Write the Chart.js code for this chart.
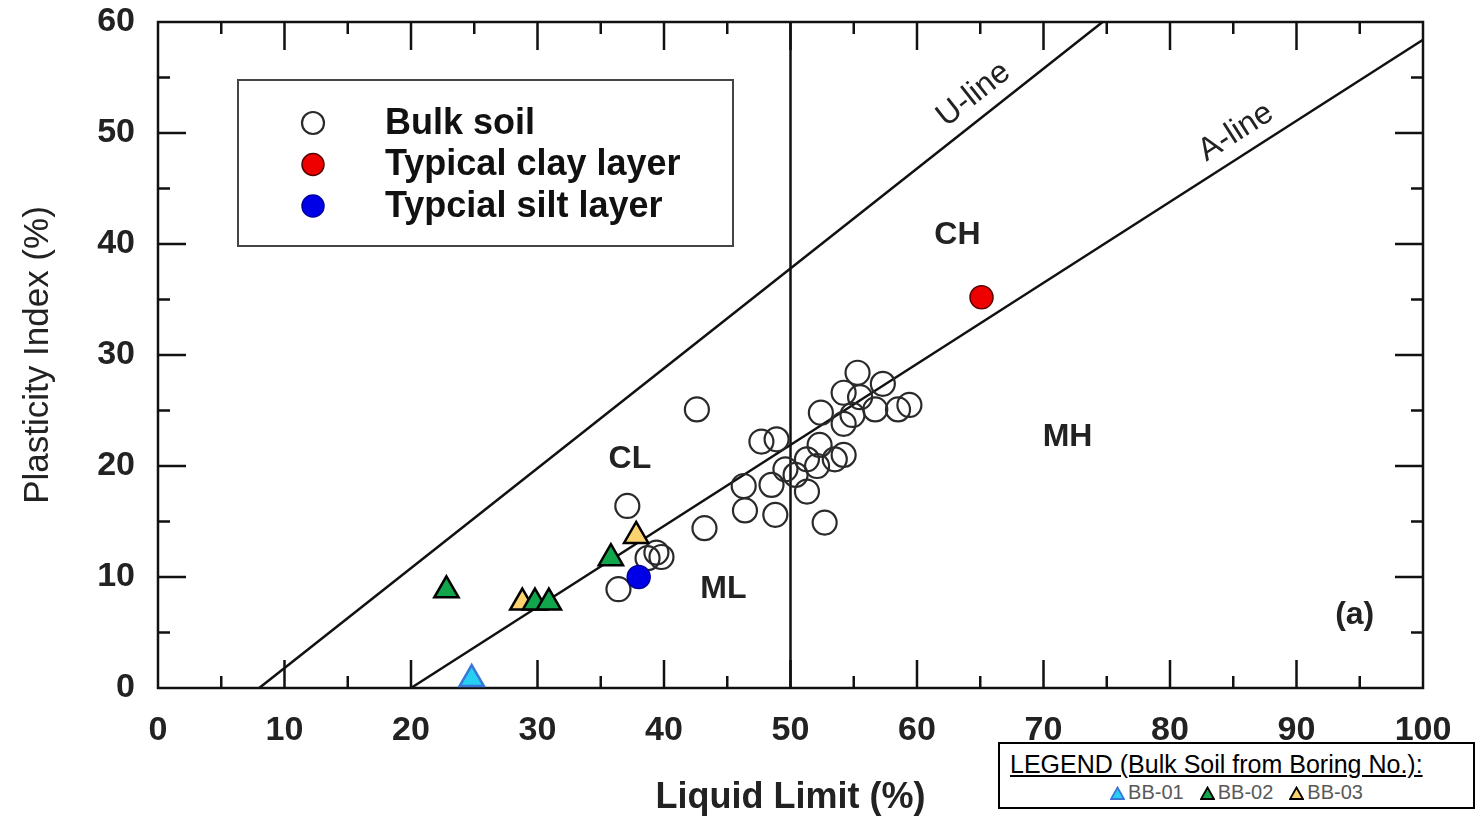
<!DOCTYPE html>
<html>
<head>
<meta charset="utf-8">
<title>Plasticity chart</title>
<script src="https://cdn.jsdelivr.net/npm/chart.js@4.4.1/dist/chart.umd.min.js"></script>
<style>
  body { margin: 0; background: #fff; }
  #wrap { position: relative; width: 1475px; height: 818px; }
  #boring {
    position: absolute; left: 998px; top: 742px; width: 473px; height: 63px;
    border: 2px solid #000; background: #fff;
    font-family: "Liberation Sans", Arial, sans-serif;
  }
  #boring .head { position: absolute; left: 10px; top: 6px; font-size: 25px; color: #000; text-decoration: underline; white-space: nowrap; }
  #boring .row { position: absolute; left: 0; right: 0; top: 37px; text-align: center; font-size: 20px; color: #595959; white-space: nowrap; }
  #boring .row span { margin: 0 8px; }
  #boring svg { vertical-align: -1px; margin-right: 3px; }
</style>
</head>
<body>
<div id="wrap">
  <canvas id="plasticity" width="1475" height="818"></canvas>
  <div id="boring">
    <div class="head">LEGEND (Bulk Soil from Boring No.):</div>
    <div class="row" id="boringRow"></div>
  </div>
</div>
<script>
// Datos (LL = límite líquido, PI = índice de plasticidad)
const bulkLL = [42.6, 37.1, 36.4, 43.2, 47.7, 48.9, 46.3, 46.4, 48.8, 48.5, 49.6, 50.4, 51.3, 51.3, 52.7,
                52.4, 52.3, 53.5, 54.2, 54.2, 54.2, 55.3, 55.5, 54.9, 56.7, 57.3, 58.5, 59.4, 38.7, 39.4, 39.8, 52.1];
const bulkPI = [25.1, 16.4, 8.9, 14.4, 22.2, 22.4, 18.2, 16.0, 15.6, 18.3, 19.7, 19.2, 20.6, 17.7, 14.9,
                24.8, 21.9, 20.6, 21.0, 23.8, 26.6, 28.4, 26.2, 24.6, 25.1, 27.4, 25.1, 25.5, 11.7, 12.2, 11.8, 20.0];
const clayLL = [65.1];
const clayPI = [35.2];
const siltLL = [38.0];
const siltPI = [10.0];
const bb01LL = [24.8];
const bb01PI = [0.8];
const bb02LL = [22.8, 29.8, 30.9, 35.8];
const bb02PI = [8.8, 7.7, 7.7, 11.7];
const bb03LL = [28.8, 37.8];
const bb03PI = [7.7, 13.7];

// Líneas de referencia
const aLineLL = [20, 100];
const aLinePI = [0, 58.4];
const uLineLL = [8, 74.67];
const uLinePI = [0, 60];
const llFiftyLL = [50, 50];
const llFiftyPI = [0, 60];

// Textos de las zonas
const zoneText = ['CL', 'CH', 'ML', 'MH', '(a)'];
const zoneLL = [37.3, 63.2, 44.7, 71.9, 94.6];
const zonePI = [20.6, 40.8, 8.9, 22.6, 6.6];

const FONT = '"Liberation Sans", Arial, sans-serif';

function toPoints(xs, ys) {
    return xs.map((x, i) => ({ x: x, y: ys[i] }));
}

function refLine(label, xs, ys) {
    return {
        label: label,
        data: toPoints(xs, ys),
        showLine: true,
        borderColor: '#111',
        borderWidth: 2.5,
        pointRadius: 0,
        order: 10,
        clip: false
    };
}

// Marco, marcas de escala, textos y leyenda interna
const decorPlugin = {
    id: 'decor',
    beforeDatasetsDraw(chart) {
        const { ctx, chartArea: a, scales: { x, y } } = chart;
        ctx.save();
        ctx.strokeStyle = '#111';
        ctx.lineWidth = 2.5;
        ctx.strokeRect(a.left, a.top, a.right - a.left, a.bottom - a.top);

        ctx.lineWidth = 2.5;
        ctx.beginPath();
        for (let v = 5; v < 100; v += 5) {
            const px = x.getPixelForValue(v);
            const len = v % 10 === 0 ? 28 : 12;
            ctx.moveTo(px, a.bottom); ctx.lineTo(px, a.bottom - len);
            ctx.moveTo(px, a.top); ctx.lineTo(px, a.top + len);
        }
        for (let v = 5; v < 60; v += 5) {
            const py = y.getPixelForValue(v);
            const len = v % 10 === 0 ? 28 : 12;
            ctx.moveTo(a.left, py); ctx.lineTo(a.left + len, py);
            ctx.moveTo(a.right, py); ctx.lineTo(a.right - len, py);
        }
        ctx.stroke();

        // zonas
        ctx.fillStyle = '#222';
        ctx.font = 'bold 32px ' + FONT;
        ctx.textAlign = 'center';
        ctx.textBaseline = 'middle';
        zoneText.forEach((t, i) => {
            ctx.fillText(t, x.getPixelForValue(zoneLL[i]), y.getPixelForValue(zonePI[i]));
        });

        // etiquetas de las líneas
        function lineLabel(text, xs, ys, atLL, lift) {
            const x0 = x.getPixelForValue(xs[0]), y0 = y.getPixelForValue(ys[0]);
            const x1 = x.getPixelForValue(xs[1]), y1 = y.getPixelForValue(ys[1]);
            const ang = Math.atan2(y1 - y0, x1 - x0);
            const t = (atLL - xs[0]) / (xs[1] - xs[0]);
            const cx = x0 + (x1 - x0) * t, cy = y0 + (y1 - y0) * t;
            ctx.save();
            ctx.translate(cx, cy);
            ctx.rotate(ang);
            ctx.font = '32px ' + FONT;
            ctx.fillText(text, 0, -lift);
            ctx.restore();
        }
        lineLabel('U-line', uLineLL, uLinePI, 65.6, 23);
        lineLabel('A-line', aLineLL, aLinePI, 86.2, 23);

        // leyenda interna
        const lx = 238, ly = 80, lw = 495, lh = 166;
        ctx.fillStyle = '#fff';
        ctx.fillRect(lx, ly, lw, lh);
        ctx.strokeStyle = '#444';
        ctx.lineWidth = 2;
        ctx.strokeRect(lx, ly, lw, lh);
        const items = chart.data.datasets.filter(d => d.inLegend);
        items.forEach((d, i) => {
            const cy = 123 + i * 41.5;
            ctx.beginPath();
            ctx.arc(313, cy, 11, 0, Math.PI * 2);
            ctx.fillStyle = d.backgroundColor;
            ctx.fill();
            ctx.strokeStyle = d.borderColor;
            ctx.lineWidth = d.borderWidth;
            ctx.stroke();
            ctx.fillStyle = '#111';
            ctx.font = 'bold 36px ' + FONT;
            ctx.textAlign = 'left';
            ctx.fillText(d.label, 385, cy + 1);
        });
        ctx.restore();
    }
};

const triStyle = { pointStyle: 'triangle', pointRadius: 14, pointBorderWidth: 2.5, order: 0, clip: false };

const chart = new Chart(document.getElementById('plasticity').getContext('2d'), {
    type: 'scatter',
    data: {
        datasets: [
            { label: 'Bulk soil', inLegend: true, data: toPoints(bulkLL, bulkPI),
              backgroundColor: 'rgba(255,255,255,0)', borderColor: '#2a2a2a', borderWidth: 2.2,
              pointRadius: 12, order: 2, clip: false },
            { label: 'Typical clay layer', inLegend: true, data: toPoints(clayLL, clayPI),
              backgroundColor: '#ee0000', borderColor: '#5a0000', borderWidth: 1.5,
              pointRadius: 11.5, order: 1, clip: false },
            { label: 'Typcial silt layer', inLegend: true, data: toPoints(siltLL, siltPI),
              backgroundColor: '#0000e6', borderColor: '#0000a0', borderWidth: 1.5,
              pointRadius: 11.5, order: 1, clip: false },
            Object.assign({ label: 'BB-01', data: toPoints(bb01LL, bb01PI),
              backgroundColor: '#25d0f2', borderColor: '#3a78d8' }, triStyle),
            Object.assign({ label: 'BB-02', data: toPoints(bb02LL, bb02PI),
              backgroundColor: '#12a64c', borderColor: '#000' }, triStyle),
            Object.assign({ label: 'BB-03', data: toPoints(bb03LL, bb03PI),
              backgroundColor: '#fad36e', borderColor: '#000' }, triStyle),
            refLine('U-line', uLineLL, uLinePI),
            refLine('A-line', aLineLL, aLinePI),
            refLine('LL = 50', llFiftyLL, llFiftyPI)
        ]
    },
    options: {
        responsive: false,
        animation: false,
        devicePixelRatio: 1,
        layout: { padding: { left: 0, top: 22, right: 52, bottom: 0 } },
        plugins: { legend: { display: false }, tooltip: { enabled: false } },
        scales: {
            x: {
                type: 'linear', min: 0, max: 100,
                afterFit(scale) {
                    scale.height = 130;
                    scale.paddingLeft = 0;
                    scale.paddingRight = 0;
                },
                grid: { display: false, drawTicks: false },
                border: { display: false },
                ticks: { stepSize: 10, padding: 22, color: '#222', font: { family: FONT, size: 34, weight: 'bold' } },
                title: { display: true, text: 'Liquid Limit (%)', color: '#222',
                         font: { family: FONT, size: 36, weight: 'bold', lineHeight: 1.1 }, padding: { top: 0, bottom: 0 } }
            },
            y: {
                type: 'linear', min: 0, max: 60,
                afterFit(scale) {
                    scale.width = 158;
                    scale.paddingTop = 0;
                    scale.paddingBottom = 0;
                },
                grid: { display: false, drawTicks: false },
                border: { display: false },
                ticks: { stepSize: 10, padding: 23, color: '#222', font: { family: FONT, size: 34, weight: 'bold' } },
                title: { display: true, text: 'Plasticity Index (%)', color: '#222',
                         font: { family: FONT, size: 35, weight: 'normal', lineHeight: 1.2 }, padding: { top: 17, bottom: 0 } }
            }
        }
    },
    plugins: [decorPlugin]
});

// Leyenda de los sondeos (abajo a la derecha)
const row = document.getElementById('boringRow');
chart.data.datasets.filter(d => d.pointStyle === 'triangle').forEach(d => {
    const span = document.createElement('span');
    span.innerHTML = '<svg width="15" height="14" viewBox="0 0 15 14"><polygon points="7.5,1.5 14,13 1,13" fill="' +
        d.backgroundColor + '" stroke="' + d.borderColor + '" stroke-width="1.8"/></svg>' + d.label;
    row.appendChild(span);
});
</script>
</body>
</html>
